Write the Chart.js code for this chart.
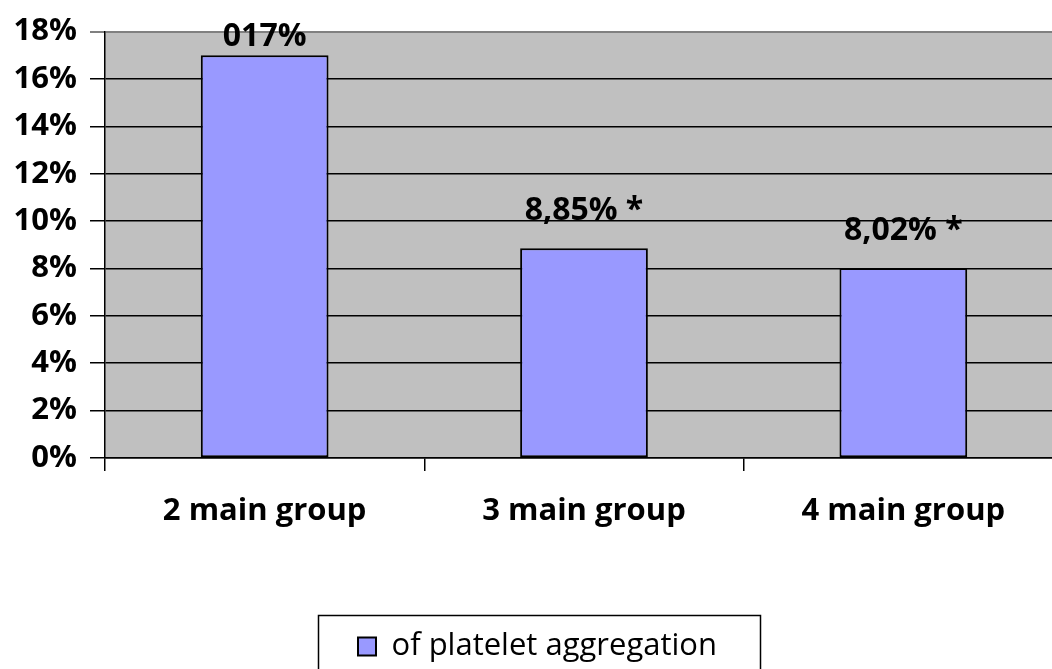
<!DOCTYPE html>
<html>
<head>
<meta charset="utf-8">
<script src="https://cdn.jsdelivr.net/npm/chart.js@4"></script>
<style>
html,body{margin:0;padding:0;background:#fff;overflow:hidden;}
#wrap{width:1052px;height:669px;position:relative;overflow:hidden;}
</style>
</head>
<body>
<div id="wrap"><canvas id="c" width="1063" height="669"></canvas></div>
<script>
const categories = ['2 main group', '3 main group', '4 main group'];
const seriesName = 'of platelet aggregation';
const values = [17, 8.85, 8.02];
const valueLabels = ['017%', '8,85% *', '8,02% *'];
const yTicks = [0, 2, 4, 6, 8, 10, 12, 14, 16, 18];

const FONT = "'Open Sans', 'DejaVu Sans', sans-serif";
const PLOT_BOTTOM = 458;
const PAD_BOTTOM = -3;
const LEGEND_SHIFT = 6;
const LEGEND_FONT = 31;
const LEGEND_BOX = 18;

const plotBg = {
  id: 'plotBg',
  beforeDraw(chart) {
    const {ctx, chartArea: a} = chart;
    ctx.save();
    ctx.fillStyle = '#c0c0c0';
    ctx.fillRect(a.left, a.top, a.right - a.left, a.bottom - a.top);
    ctx.restore();
  }
};

const barLabels = {
  id: 'barLabels',
  afterDatasetsDraw(chart) {
    const {ctx} = chart;
    const meta = chart.getDatasetMeta(0);
    ctx.save();
    ctx.font = "bold 32px " + FONT;
    ctx.fillStyle = '#000';
    ctx.textAlign = 'center';
    ctx.textBaseline = 'middle';
    meta.data.forEach((bar, i) => {
      const y = Math.max(bar.y - 37, chart.chartArea.top + 5);
      ctx.fillText(valueLabels[i], bar.x, y);
    });
    ctx.restore();
  }
};

const legendBorder = {
  id: 'legendBorder',
  afterUpdate(chart) {
    const lg = chart.legend;
    if (!lg) return;
    lg.left += LEGEND_SHIFT;
    lg.right += LEGEND_SHIFT;
  },
  afterDraw(chart) {
    const lg = chart.legend;
    if (!lg) return;
    const {ctx} = chart;
    ctx.save();
    ctx.font = LEGEND_FONT + "px " + FONT;
    const tw = ctx.measureText(seriesName).width;
    const itemW = LEGEND_BOX + LEGEND_FONT / 2 + tw;
    const cx = (lg.left + lg.right) / 2;
    const cy = lg.top + lg.height / 2;
    ctx.strokeStyle = '#000';
    ctx.lineWidth = 1.5;
    ctx.strokeRect(Math.round(cx - itemW / 2 - 40) + 0.5, Math.round(cy - 32) + 0.5, Math.round(itemW + 83), 90);
    ctx.restore();
  }
};

new Chart(document.getElementById('c'), {
  type: 'bar',
  data: {
    labels: categories,
    datasets: [{
      label: seriesName,
      data: values,
      backgroundColor: '#9999ff',
      borderColor: '#000',
      borderWidth: 2,
      borderSkipped: false,
      barPercentage: 0.4,
      categoryPercentage: 1.0
    }]
  },
  options: {
    responsive: false,
    animation: false,
    devicePixelRatio: 1,
    layout: {padding: {top: 28, right: 0, left: 0, bottom: PAD_BOTTOM}},
    plugins: {
      tooltip: {enabled: false},
      legend: {
        position: 'bottom',
        labels: {
          font: {family: FONT, size: LEGEND_FONT},
          color: '#000',
          boxWidth: LEGEND_BOX,
          boxHeight: LEGEND_BOX,
          padding: 10,
          generateLabels(chart) {
            return [{
              text: seriesName,
              fillStyle: '#9999ff',
              strokeStyle: '#000',
              lineWidth: 2,
              datasetIndex: 0,
              fontColor: '#000'
            }];
          }
        }
      }
    },
    scales: {
      x: {
        grid: {
          display: true,
          offset: true,
          drawOnChartArea: false,
          drawTicks: true,
          tickLength: 13,
          color: ctx => (ctx.tick === undefined) ? 'rgba(0,0,0,0)' : '#000',
          lineWidth: 1.5
        },
        border: {display: true, color: '#000', width: 1.5},
        ticks: {
          font: {family: FONT, size: 31, weight: 'bold'},
          color: '#000',
          padding: 22,
          maxRotation: 0
        },
        afterFit(scale) {
          const lh = scale.chart.legend ? scale.chart.legend.height : 0;
          scale.height = Math.max(60, scale.chart.height - PAD_BOTTOM - lh - PLOT_BOTTOM);
        }
      },
      y: {
        min: 0,
        max: 18,
        afterBuildTicks(scale) { scale.ticks = yTicks.map(v => ({value: v})); },
        grid: {
          color: ctx => (ctx.tick && ctx.tick.value === 18) ? '#808080' : '#000',
          lineWidth: ctx => (ctx.tick && ctx.tick.value === 18) ? 2 : 1.5,
          tickLength: 15,
          drawTicks: true
        },
        border: {display: true, color: '#000', width: 1.5},
        ticks: {
          font: {family: FONT, size: 31, weight: 'bold'},
          color: '#000',
          padding: 13,
          callback: v => v + '%'
        },
        afterFit(scale) { scale.width = 105; }
      }
    }
  },
  plugins: [plotBg, barLabels, legendBorder]
});
</script>
</body>
</html>
